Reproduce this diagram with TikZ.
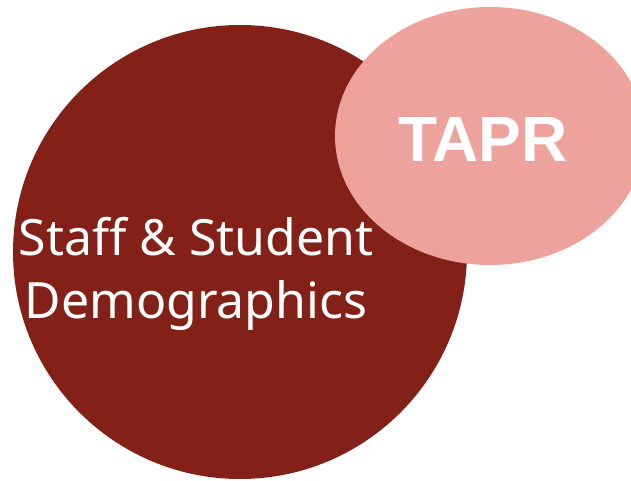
\documentclass[tikz,border=0pt]{standalone}
\usepackage{fontspec}
\setmainfont{Noto Sans}
\newfontfamily\tapr{Liberation Sans}
\usetikzlibrary{shapes.geometric}
\definecolor{darkred}{HTML}{832018}
\definecolor{pinkred}{HTML}{EDA29B}

\begin{document}
\begin{tikzpicture}[x=1pt, y=-1pt, blob/.style={draw=none, inner sep=0pt}]

   \useasboundingbox (0,0) rectangle (631,481);
   \clip (0,0) rectangle (631,481);

   \node[blob, circle, fill=darkred, minimum size=454pt] (demo) at (240,252) {};
   \node[blob, ellipse, fill=pinkred, minimum width=310pt, minimum height=258pt] (tapr) at (490,136) {};

   \node[text=white, align=center, font=\fontsize{50}{63}\selectfont] (demotext) at (196,274) {Staff \& Student\\Demographics};
   \node[text=white, font=\tapr\bfseries\fontsize{64}{64}\selectfont] (taprtext) at (483,139) {TAPR};
\end{tikzpicture}
\end{document}
